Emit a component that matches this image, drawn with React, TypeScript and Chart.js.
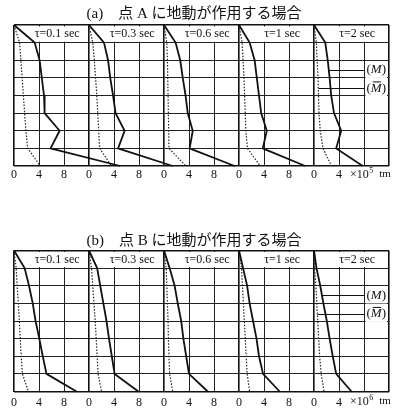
import { useEffect, useRef } from 'react';
import { Chart, registerables } from 'chart.js';

Chart.register(...registerables);

// ---- data ----
const LEVELS = [0, 1, 2, 3, 4, 5, 6, 7, 8];
const TAU_LABELS = ['τ=0.1 sec', 'τ=0.3 sec', 'τ=0.6 sec', 'τ=1 sec', 'τ=2 sec'];
const X_TICK_LABELS = ['0', '4', '8'];
const PANEL_SPAN = 12;

// (a) 点Aに地動が作用する場合  (×10^5 tm)
const A_M_01 = [0, 3.3, 4.1, 4.45, 4.8, 4.9, 7.3, 5.85, 17.0];
const A_MBAR_01 = [0, 0.9, 1.1, 1.3, 1.5, 1.7, 1.9, 2.2, 4.2];
const A_M_03 = [0, 2.4, 3.05, 3.4, 3.85, 4.25, 5.7, 4.65, 13.4];
const A_MBAR_03 = [0, 0.6, 0.85, 1.05, 1.25, 1.4, 1.55, 1.7, 3.6];
const A_M_06 = [0, 1.85, 2.6, 3.0, 3.45, 3.8, 4.6, 4.1, 11.3];
const A_MBAR_06 = [0, 0.45, 0.55, 0.6, 0.65, 0.7, 0.75, 0.8, 3.5];
const A_M_1 = [0, 1.7, 2.5, 2.85, 3.2, 3.55, 4.45, 3.8, 10.6];
const A_MBAR_1 = [0, 0.5, 0.65, 0.8, 0.9, 1.0, 1.1, 1.35, 3.4];
const A_M_2 = [0, 1.8, 2.2, 2.5, 2.75, 3.2, 4.35, 3.55, 7.8];
const A_MBAR_2 = [0, 0.38, 0.5, 0.64, 0.72, 0.8, 1.0, 1.44, 2.8];

// (b) 点Bに地動が作用する場合
const B_M_01 = [0, 1.7, 2.4, 3.0, 3.45, 4.05, 4.6, 5.2, 10.0];
const B_MBAR_01 = [0, 0.35, 0.5, 0.7, 0.85, 1.0, 1.15, 1.35, 2.3];
const B_M_03 = [0, 1.3, 1.8, 2.3, 2.8, 3.2, 3.65, 4.1, 7.9];
const B_MBAR_03 = [0, 0.4, 0.6, 0.8, 1.0, 1.15, 1.3, 1.45, 2.0];
const B_M_06 = [0, 0.9, 1.7, 2.2, 2.75, 3.1, 3.55, 4.0, 7.0];
const B_MBAR_06 = [0, 0.35, 0.45, 0.55, 0.65, 0.7, 0.8, 0.9, 1.4];
const B_M_1 = [0, 0.65, 1.3, 1.7, 2.25, 2.8, 3.2, 3.85, 6.5];
const B_MBAR_1 = [0, 0.4, 0.55, 0.7, 0.85, 1.0, 1.15, 1.3, 1.7];
const B_M_2 = [0, 0.4, 1.0, 1.5, 2.05, 2.5, 3.0, 3.55, 6.0];
const B_MBAR_2 = [0, 0.1, 0.3, 0.45, 0.6, 0.75, 0.9, 1.15, 1.6];

const A_M = [A_M_01, A_M_03, A_M_06, A_M_1, A_M_2];
const A_MBAR = [A_MBAR_01, A_MBAR_03, A_MBAR_06, A_MBAR_1, A_MBAR_2];
const B_M = [B_M_01, B_M_03, B_M_06, B_M_1, B_M_2];
const B_MBAR = [B_MBAR_01, B_MBAR_03, B_MBAR_06, B_MBAR_1, B_MBAR_2];

const SERIF = "'Liberation Serif', 'DejaVu Serif', serif";
const JP = "'Liberation Serif', 'Noto Sans CJK JP', serif";

type HalfCfg = {
  title: string;
  M: number[][];
  Mbar: number[][];
  exp: string;
  padTop: number;
  padBottom: number;
  tickPad: number;
  titlePad: { top: number; bottom: number };
};

const AXIS_H = 20;

const HALF_A: HalfCfg = {
  title: '(a)　点 A に地動が作用する場合　',
  M: A_M,
  Mbar: A_MBAR,
  exp: '5',
  padTop: 0,
  padBottom: 19,
  tickPad: 2,
  titlePad: { top: 5, bottom: 2 },
};
const HALF_B: HalfCfg = {
  title: '(b)　点 B に地動が作用する場合　',
  M: B_M,
  Mbar: B_MBAR,
  exp: '6',
  padTop: 24,
  padBottom: 3.5,
  tickPad: 4,
  titlePad: { top: 3, bottom: 0.5 },
};

function interp(arr: number[], level: number) {
  const k = Math.floor(level);
  const f = level - k;
  return arr[k] + (arr[k + 1] - arr[k]) * f;
}

function drawLegendLabel(ctx: CanvasRenderingContext2D, x: number, y: number, bar: boolean) {
  ctx.font = `13px ${SERIF}`;
  const w1 = ctx.measureText('(').width;
  const w3 = ctx.measureText(')').width;
  ctx.font = `italic 13px ${SERIF}`;
  const wM = ctx.measureText('M').width;
  const w = w1 + wM + w3;
  ctx.fillStyle = '#fff';
  ctx.fillRect(x - 1, y - 9, w + 2, 17);
  ctx.fillStyle = '#111';
  ctx.textBaseline = 'middle';
  ctx.textAlign = 'left';
  ctx.font = `13px ${SERIF}`;
  ctx.fillText('(', x, y);
  ctx.fillText(')', x + w1 + wM, y);
  ctx.font = `italic 13px ${SERIF}`;
  ctx.fillText('M', x + w1, y);
  if (bar) {
    ctx.strokeStyle = '#111';
    ctx.lineWidth = 1;
    ctx.beginPath();
    ctx.moveTo(x + w1 + 2, y - 6.5);
    ctx.lineTo(x + w1 + wM - 0.5, y - 6.5);
    ctx.stroke();
  }
}

function buildConfig(cfg: HalfCfg): any {
  const datasets: any[] = [];
  const scales: any = {};
  for (let i = 0; i < 5; i++) {
    const id = 'x' + i;
    const sc: any = {
      type: 'linear',
      axis: 'x',
      position: 'bottom',
      min: -PANEL_SPAN * i,
      max: PANEL_SPAN * 5 - PANEL_SPAN * i,
      display: i === 0,
      border: { display: false },
      grid: {
        drawTicks: false,
        color: (c: any) => (c.tick && c.tick.value % PANEL_SPAN === 0 ? '#111' : '#222'),
        lineWidth: (c: any) => (c.tick && c.tick.value % PANEL_SPAN === 0 ? 1.6 : 1),
      },
      ticks: {
        stepSize: 4,
        autoSkip: false,
        maxRotation: 0,
        minRotation: 0,
        padding: cfg.tickPad,
        color: '#111',
        font: { family: SERIF, size: 12 },
        callback: (v: number) => {
          if (v >= PANEL_SPAN * 5) return '';
          if (v === PANEL_SPAN * 4 + 8) return '';
          return X_TICK_LABELS[(v % PANEL_SPAN) / 4];
        },
      },
    };
    if (i === 0) {
      sc.afterFit = (s: any) => {
        s.height = AXIS_H;
      };
    }
    scales[id] = sc;
    datasets.push({
      label: 'M ' + TAU_LABELS[i],
      data: cfg.M[i].map((x, k) => ({ x, y: LEVELS[k] })),
      xAxisID: id,
      yAxisID: 'y',
      borderColor: '#111',
      borderWidth: 1.8,
      pointRadius: 0,
      tension: 0,
      clip: false,
      fill: false,
    });
    datasets.push({
      label: 'M̄ ' + TAU_LABELS[i],
      data: cfg.Mbar[i].map((x, k) => ({ x, y: LEVELS[k] })),
      xAxisID: id,
      yAxisID: 'y',
      borderColor: '#222',
      borderWidth: 1.2,
      borderDash: [1.5, 1.6],
      pointRadius: 0,
      tension: 0,
      clip: false,
      fill: false,
    });
  }
  scales.y = {
    type: 'linear',
    min: LEVELS[0],
    max: LEVELS[LEVELS.length - 1],
    reverse: true,
    border: { display: false },
    ticks: { display: false, stepSize: 1 },
    grid: {
      drawTicks: false,
      color: (c: any) => (c.tick && (c.tick.value === 0 || c.tick.value === 8) ? '#111' : '#222'),
      lineWidth: (c: any) => (c.tick && (c.tick.value === 0 || c.tick.value === 8) ? 1.6 : 1),
    },
  };

  const panelPlugin = {
    id: 'panelDecor',
    beforeDatasetsDraw(chart: any) {
      const ctx = chart.ctx as CanvasRenderingContext2D;
      const xs = chart.scales.x0;
      const ys = chart.scales.y;
      ctx.save();
      for (let i = 0; i < 5; i++) {
        const l = xs.getPixelForValue(i * PANEL_SPAN);
        const r = xs.getPixelForValue((i + 1) * PANEL_SPAN);
        const t = ys.getPixelForValue(0);
        const b = ys.getPixelForValue(1);
        ctx.fillStyle = '#fff';
        ctx.fillRect(l + 1.5, t + 1.5, r - l - 3, b - t - 2.5);
        ctx.fillStyle = '#111';
        ctx.font = `12px ${SERIF}`;
        ctx.textAlign = 'center';
        ctx.textBaseline = 'middle';
        ctx.fillText(TAU_LABELS[i], xs.getPixelForValue(i * PANEL_SPAN + 6.9), (t + b) / 2 + 0.5);
      }
      ctx.restore();
    },
    afterDatasetsDraw(chart: any) {
      const ctx = chart.ctx as CanvasRenderingContext2D;
      const xs = chart.scales.x4;
      const x0 = chart.scales.x0;
      const ys = chart.scales.y;
      ctx.save();
      // leaders + legend labels in last panel
      const lvM = 2.55;
      const lvB = 3.6;
      const yM = ys.getPixelForValue(lvM);
      const yB = ys.getPixelForValue(lvB);
      const xEnd = xs.getPixelForValue(8);
      ctx.strokeStyle = '#111';
      ctx.lineWidth = 1;
      ctx.beginPath();
      ctx.moveTo(xs.getPixelForValue(interp(cfg.M[4], lvM)), Math.round(yM) + 0.5);
      ctx.lineTo(xEnd, Math.round(yM) + 0.5);
      ctx.moveTo(xs.getPixelForValue(interp(cfg.Mbar[4], lvB)), Math.round(yB) + 0.5);
      ctx.lineTo(xEnd, Math.round(yB) + 0.5);
      ctx.stroke();
      drawLegendLabel(ctx, xEnd + 2.5, yM, false);
      drawLegendLabel(ctx, xEnd + 2.5, yB, true);
      // unit label
      const ly = chart.chartArea.bottom + cfg.tickPad + 6.5;
      let ux = x0.getPixelForValue(PANEL_SPAN * 4 + 4) + 11;
      ctx.fillStyle = '#111';
      ctx.textAlign = 'left';
      ctx.textBaseline = 'middle';
      ctx.font = `12px ${SERIF}`;
      ctx.fillText('×10', ux, ly);
      ux += ctx.measureText('×10').width + 0.5;
      ctx.font = `8px ${SERIF}`;
      ctx.fillText(cfg.exp, ux, ly - 4);
      ux += ctx.measureText(cfg.exp).width + 6;
      ctx.font = `11px ${SERIF}`;
      ctx.fillText('tm', ux, ly - 0.5);
      ctx.restore();
    },
  };

  return {
    type: 'line',
    data: { datasets },
    options: {
      responsive: false,
      animation: false,
      devicePixelRatio: 1,
      layout: { padding: { top: cfg.padTop, left: 14, right: 13, bottom: cfg.padBottom } },
      plugins: {
        legend: { display: false },
        tooltip: { enabled: false },
        title: {
          display: true,
          text: cfg.title,
          color: '#111',
          font: { family: JP, size: 15, weight: 'normal', lineHeight: 1.2 },
          padding: cfg.titlePad,
        },
      },
      scales,
    },
    plugins: [panelPlugin],
  };
}

function Half({ cfg, top, height }: { cfg: HalfCfg; top: number; height: number }) {
  const ref = useRef<HTMLCanvasElement>(null);
  useEffect(() => {
    const chart = new Chart(ref.current as HTMLCanvasElement, buildConfig(cfg));
    return () => chart.destroy();
  }, [cfg]);
  return (
    <canvas
      ref={ref}
      width={402}
      height={height}
      style={{ position: 'absolute', left: 0, top, width: 402, height, display: 'block' }}
    />
  );
}

export default function App() {
  return (
    <div style={{ position: 'absolute', left: 0, top: 0, width: 402, height: 411, background: '#fff', overflow: 'hidden' }}>
      <Half cfg={HALF_A} top={0} height={205} />
      <Half cfg={HALF_B} top={205} height={210} />
    </div>
  );
}
